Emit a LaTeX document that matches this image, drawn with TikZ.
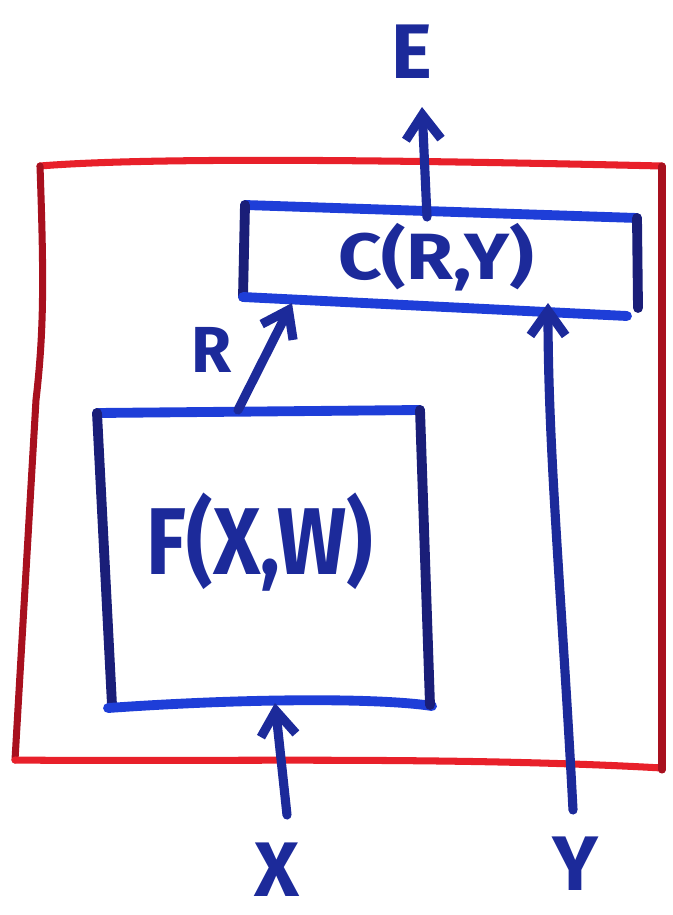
\documentclass[tikz,border=0pt]{standalone}
\usepackage{fontspec}
\setmainfont{Fira Sans}
\usepackage{graphicx}
\usetikzlibrary{arrows.meta}
\definecolor{redline}{HTML}{E8202A}
\definecolor{darkred}{HTML}{A8101E}
\definecolor{blueline}{HTML}{1E3ED8}
\definecolor{navy}{HTML}{1A1E78}
\definecolor{ink}{HTML}{1C2A9A}
\begin{document}
\begin{tikzpicture}[x=0.01cm,y=-0.01cm, line cap=round, line join=round,
  redh/.style={draw=redline, line width=2pt},
  redv/.style={draw=darkred, line width=2pt},
  blueh/.style={draw=blueline, line width=2.8pt},
  bluev/.style={draw=navy, line width=2.8pt},
  arr/.style={draw=ink, line width=2.6pt, -{Straight Barb[length=7pt,width=10pt]}},
  lbl/.style={text=ink, inner sep=0pt, anchor=center}]
\useasboundingbox (0,0) rectangle (673,915);

% outer red box
\draw[redh] (40,166) .. controls (150,157) and (400,160) .. (662,166);
\draw[redv] (40,166) .. controls (44,280) and (44,330) .. (36,400) -- (15,760);
\draw[redh] (15,760) .. controls (200,762) and (450,756) .. (662,768);
\draw[redv] (662,166) -- (662,770);

% C box
\draw[blueh] (245,205) -- (637,218);
\draw[bluev] (245,205) -- (243,297);
\draw[blueh] (243,297) -- (627,316);
\draw[bluev] (637,218) -- (638,308);

% F box
\draw[blueh] (97,413) -- (420,410);
\draw[bluev] (97,413) -- (112,705);
\draw[blueh] (108,708) .. controls (250,698) and (380,698) .. (432,706);
\draw[bluev] (420,410) -- (430,705);

% labels
\node[lbl] (E) at (412,52) {\bfseries\fontsize{22}{22}\selectfont E};
\node[lbl] (ctext) at (436,257) {\scalebox{1.16}[1]{\bfseries\fontsize{18.6}{19}\selectfont C(R,Y)}};
\node[lbl] (ftext) at (260,542) {\scalebox{0.86}[1]{\bfseries\fontsize{27}{27}\selectfont F(X,W)}};
\node[lbl] (R) at (212,350) {\bfseries\fontsize{18.5}{19}\selectfont R};
\node[lbl] (X) at (277,870) {\bfseries\fontsize{22}{22}\selectfont X};
\node[lbl] (Y) at (575,864) {\bfseries\fontsize{22}{22}\selectfont Y};

% connector ends
\coordinate (cTop) at (427,217);
\coordinate (eTip) at (422,107);
\coordinate (fTop) at (238,410);
\coordinate (cBotL) at (292,303);
\coordinate (xStart) at (287,815);
\coordinate (fBot) at (275,703);
\coordinate (yStart) at (573,810);
\coordinate (cBotR) at (548,303);

% connectors
\draw[arr] (cTop) -- (eTip);
\draw[arr] (fTop) -- (cBotL);
\draw[arr] (xStart) -- (fBot);
\draw[arr] (yStart) .. controls (562,600) and (548,450) .. (cBotR);
\end{tikzpicture}
\end{document}
